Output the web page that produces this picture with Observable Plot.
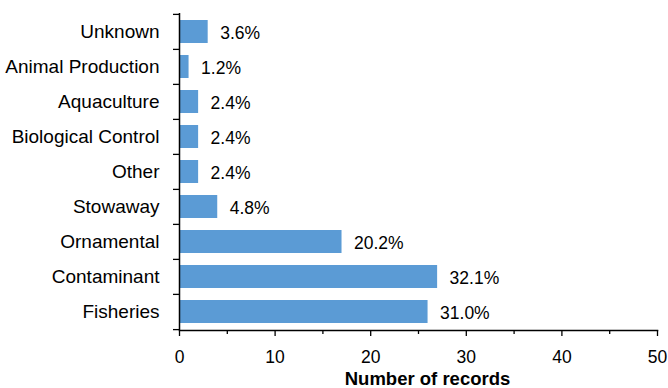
<!DOCTYPE html>
<html>
<head>
<meta charset="utf-8">
<script src="https://cdn.jsdelivr.net/npm/d3@7"></script>
<script src="https://cdn.jsdelivr.net/npm/@observablehq/plot@0.6"></script>
<style>
  html, body { margin: 0; padding: 0; background: #fff; }
</style>
</head>
<body>
<div id="chart"></div>
<script>
const categories = ["Unknown", "Animal Production", "Aquaculture", "Biological Control", "Other", "Stowaway", "Ornamental", "Contaminant", "Fisheries"];
const records = [3, 1, 2, 2, 2, 4, 17, 27, 26];
const percentLabels = ["3.6%", "1.2%", "2.4%", "2.4%", "2.4%", "4.8%", "20.2%", "32.1%", "31.0%"];
const xTicks = [0, 10, 20, 30, 40, 50];
const xMinorTicks = [5, 15, 25, 35, 45];
const xTitle = "Number of records";

const data = categories.map((c, i) => ({category: c, records: records[i], label: percentLabels[i]}));

const W = 668, H = 388, mT = 13, mB = 58, mL = 179, mR = 11;
const step = (H - mT - mB) / categories.length;

const chart = Plot.plot({
  width: W, height: H,
  marginTop: mT, marginBottom: mB, marginLeft: mL, marginRight: mR,
  style: {fontFamily: "'Liberation Sans', Arial, sans-serif", fontSize: "17px", color: "#000", background: "#fff"},
  x: {domain: [0, 50]},
  y: {domain: categories, paddingInner: 0.35, paddingOuter: 0.175},
  marks: [
    Plot.barX(data, {x: "records", y: "category", fill: "#5b9bd5"}),
    Plot.text(data, {x: "records", y: "category", text: "label", textAnchor: "start", dx: 12, dy: 1, fontSize: 17.5, fill: "#000"}),
    Plot.ruleX([0], {stroke: "#000", strokeWidth: 1.5}),
    Plot.frame({anchor: "bottom", stroke: "#000", strokeWidth: 1.5}),
    Plot.axisX(xTicks, {tickSize: 6, tickPadding: 14, fontSize: 17.5, label: null, strokeWidth: 1.3}),
    Plot.axisX(xMinorTicks, {tickSize: 4, fill: "none", label: null, strokeWidth: 1.3}),
    Plot.axisY({tickSize: 0, tickPadding: 20, fontSize: 19, label: null}),
    Plot.axisY(categories, {tickSize: 6, fill: "none", label: null, dy: -step / 2, strokeWidth: 1.3}),
    Plot.axisY([categories[categories.length - 1]], {tickSize: 6, fill: "none", label: null, dy: step / 2, strokeWidth: 1.3}),
    Plot.text([xTitle], {frameAnchor: "bottom", dy: 54, dx: 9, fontSize: 18.5, fontWeight: "bold", fill: "#000"})
  ]
});
document.getElementById("chart").appendChild(chart);
</script>
</body>
</html>
